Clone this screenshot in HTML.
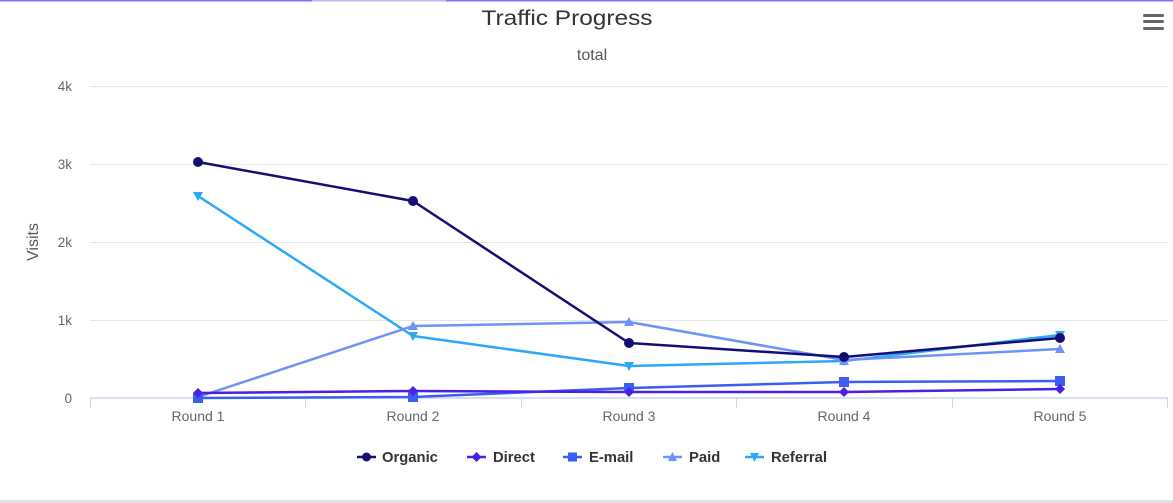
<!DOCTYPE html>
<html><head><meta charset="utf-8"><style>
html,body{margin:0;padding:0;background:#fff;}
svg{display:block;font-family:"Liberation Sans",sans-serif;}
</style></head><body>
<svg width="1173" height="503" viewBox="0 0 1173 503" xmlns="http://www.w3.org/2000/svg">
<rect x="0" y="0" width="1173" height="503" fill="#fff"/>
<rect x="0" y="0" width="1173" height="1.5" fill="#8a6cf2"/>
<rect x="312" y="0" width="134" height="1.5" fill="#c3b4f2"/>
<rect x="0" y="500" width="1173" height="3" fill="#e2e2e2"/>
<!-- hamburger -->
<g fill="#666">
<rect x="1143" y="14" width="21" height="3" rx="1.5"/>
<rect x="1143" y="20" width="21" height="3" rx="1.5"/>
<rect x="1143" y="27" width="21" height="3" rx="1.5"/>
</g>
<text x="567" y="25" text-anchor="middle" font-size="21" fill="#333" textLength="171" lengthAdjust="spacingAndGlyphs">Traffic Progress</text>
<text x="592" y="60" text-anchor="middle" font-size="16" fill="#555">total</text>
<!-- grid -->
<g stroke="#e6e6e6" stroke-width="1">
<line x1="90" y1="86.5" x2="1168" y2="86.5"/>
<line x1="90" y1="164.5" x2="1168" y2="164.5"/>
<line x1="90" y1="242.5" x2="1168" y2="242.5"/>
<line x1="90" y1="320.5" x2="1168" y2="320.5"/>
</g>
<line x1="90" y1="398" x2="1168" y2="398" stroke="#ccd6eb" stroke-width="1.5"/>
<g stroke="#ccd6eb" stroke-width="1">
<line x1="90.5" y1="398" x2="90.5" y2="408"/>
<line x1="305.5" y1="398" x2="305.5" y2="408"/>
<line x1="521.5" y1="398" x2="521.5" y2="408"/>
<line x1="736.5" y1="398" x2="736.5" y2="408"/>
<line x1="952.5" y1="398" x2="952.5" y2="408"/>
<line x1="1167.5" y1="398" x2="1167.5" y2="408"/>
</g>
<g font-size="13.5" fill="#666" text-anchor="end">
<text x="72" y="91">4k</text>
<text x="72" y="169">3k</text>
<text x="72" y="247">2k</text>
<text x="72" y="325">1k</text>
<text x="72" y="403">0</text>
</g>
<text transform="translate(38,242) rotate(-90)" text-anchor="middle" font-size="16" fill="#555">Visits</text>
<g font-size="14" fill="#666" text-anchor="middle">
<text x="198" y="421">Round 1</text>
<text x="413" y="421">Round 2</text>
<text x="629" y="421">Round 3</text>
<text x="844" y="421">Round 4</text>
<text x="1060" y="421">Round 5</text>
</g>
<!-- series -->
<g fill="none" stroke-width="2.5" stroke-linejoin="round" stroke-linecap="round">
<polyline stroke="#2ca8fb" points="198,196 413,336 629,366 844,361 1060,335"/>
<polyline stroke="#6b93f8" points="198,397 413,326 629,322 844,360 1060,349"/>
<polyline stroke="#3a5ef0" points="198,398 413,397 629,388 844,382 1060,381"/>
<polyline stroke="#4a1fe6" points="198,393 413,391 629,392 844,392 1060,389"/>
<polyline stroke="#140e73" points="198,162 413,201 629,343 844,357 1060,338"/>
</g>
<!-- markers -->
<g fill="#2ca8fb">
<path d="M193,192 L203,192 L198,201 Z"/><path d="M408,332 L418,332 L413,341 Z"/><path d="M624,362 L634,362 L629,371 Z"/><path d="M839,357 L849,357 L844,366 Z"/><path d="M1055,331 L1065,331 L1060,340 Z"/>
</g>
<g fill="#6b93f8">
<path d="M198,392 L203,401 L193,401 Z"/><path d="M413,321 L418,330 L408,330 Z"/><path d="M629,317 L634,326 L624,326 Z"/><path d="M844,356 L849,365 L839,365 Z"/><path d="M1060,344 L1065,353 L1055,353 Z"/>
</g>
<g fill="#3a5ef0">
<rect x="193" y="393" width="10" height="10"/><rect x="408" y="392" width="10" height="10"/><rect x="624" y="383" width="10" height="10"/><rect x="839" y="377" width="10" height="10"/><rect x="1055" y="376" width="10" height="10"/>
</g>
<g fill="#4a1fe6">
<path d="M198,388 L203,393 L198,398 L193,393 Z"/><path d="M413,386 L418,391 L413,396 L408,391 Z"/><path d="M629,387 L634,392 L629,397 L624,392 Z"/><path d="M844,387 L849,392 L844,397 L839,392 Z"/><path d="M1060,384 L1065,389 L1060,394 L1055,389 Z"/>
</g>
<g fill="#140e73">
<circle cx="198" cy="162" r="5"/><circle cx="413" cy="201" r="5"/><circle cx="629" cy="343" r="5"/><circle cx="844" cy="357" r="5"/><circle cx="1060" cy="338" r="5"/>
</g>
<!-- legend -->
<g stroke-width="2.5">
<line x1="357" y1="457" x2="376" y2="457" stroke="#140e73"/>
<line x1="467" y1="457" x2="486" y2="457" stroke="#4a1fe6"/>
<line x1="563" y1="457" x2="582" y2="457" stroke="#3a5ef0"/>
<line x1="663" y1="457" x2="682" y2="457" stroke="#6b93f8"/>
<line x1="745" y1="457" x2="764" y2="457" stroke="#2ca8fb"/>
</g>
<circle cx="366.5" cy="457" r="4.5" fill="#140e73"/>
<path d="M476.5,452 L481.5,457 L476.5,462 L471.5,457 Z" fill="#4a1fe6"/>
<rect x="568" y="452.5" width="9" height="9" fill="#3a5ef0"/>
<path d="M672.5,452 L677,461 L668,461 Z" fill="#6b93f8"/>
<path d="M750,453 L759,453 L754.5,462 Z" fill="#2ca8fb"/>
<g font-size="14.8" font-weight="bold" fill="#333">
<text x="382" y="462">Organic</text>
<text x="493" y="462">Direct</text>
<text x="589" y="462">E-mail</text>
<text x="689" y="462">Paid</text>
<text x="771" y="462">Referral</text>
</g>
</svg>
</body></html>
